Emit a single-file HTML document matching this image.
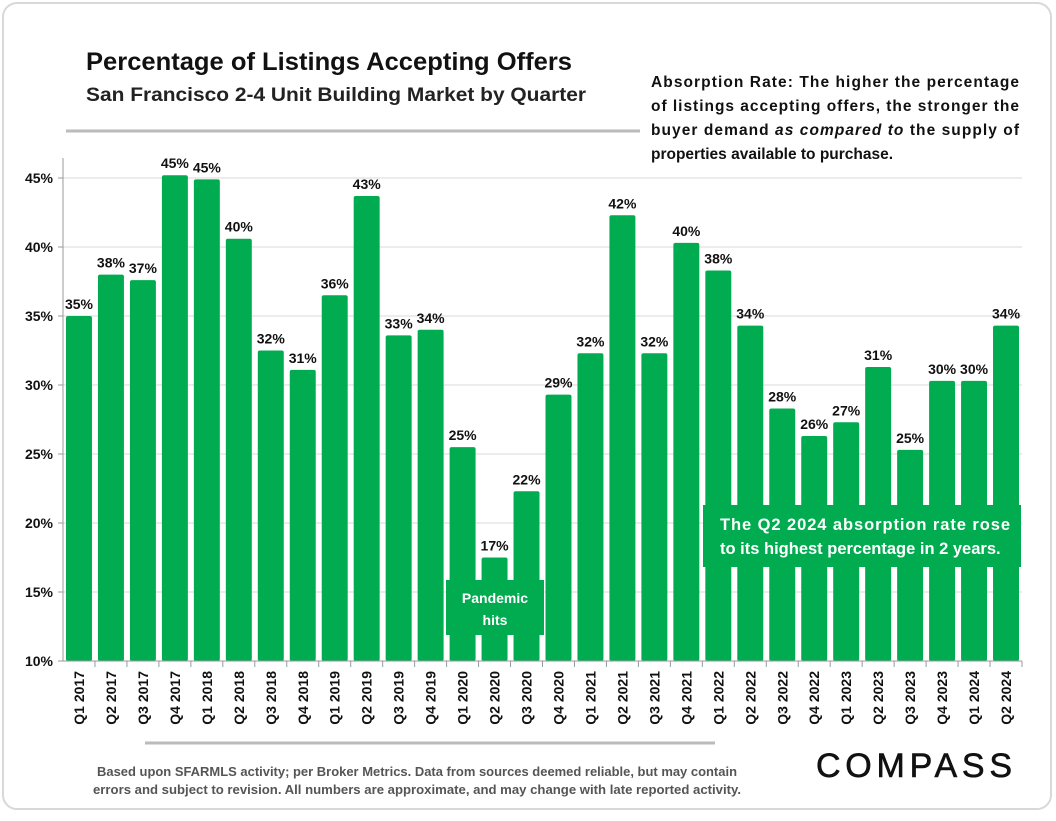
<!DOCTYPE html>
<html><head><meta charset="utf-8"><style>
body{margin:0;background:#fff;width:1056px;height:816px;overflow:hidden;font-family:"Liberation Sans",sans-serif}
svg text{font-family:"Liberation Sans",sans-serif}
</style></head><body>
<svg id="chart" width="1056" height="816" xmlns="http://www.w3.org/2000/svg">
<rect x="3" y="3" width="1048" height="806" rx="14" fill="#fff" stroke="#d8d8d8" stroke-width="2"/>
<text x="86" y="70" font-size="25" font-weight="bold" fill="#111" textLength="486" lengthAdjust="spacingAndGlyphs">Percentage of Listings Accepting Offers</text>
<text x="86" y="101" font-size="19" font-weight="bold" fill="#222" textLength="500" lengthAdjust="spacingAndGlyphs">San Francisco 2-4 Unit Building Market by Quarter</text>
<line x1="66" y1="131" x2="632" y2="131" stroke="#bbb" stroke-width="3"/>
<line x1="632" y1="131" x2="1022" y2="131" stroke="#bbb" stroke-width="3"/>
<rect x="640" y="66" width="384" height="100" fill="#fff"/>
<g font-size="15.5" font-weight="bold" fill="#111">
<text x="651" y="87" textLength="368" lengthAdjust="spacing">Absorption Rate: The higher the percentage</text>
<text x="651" y="111" textLength="368" lengthAdjust="spacing">of listings accepting offers, the stronger the</text>
<text x="651" y="135" textLength="368" lengthAdjust="spacing">buyer demand <tspan font-style="italic">as compared to</tspan> the supply of</text>
<text x="651" y="159">properties available to purchase.</text>
</g>
<g id="grid"></g><g id="bars"></g><g id="labels"></g><g id="axis"></g>
<rect x="446" y="580" width="98" height="55" fill="#00ac4f"/>
<text x="495" y="603" font-size="14" font-weight="bold" fill="#fff" text-anchor="middle">Pandemic</text>
<text x="495" y="625" font-size="14" font-weight="bold" fill="#fff" text-anchor="middle">hits</text>
<rect x="703" y="505" width="318" height="62" fill="#00ac4f"/>
<text x="720" y="530" font-size="16.5" font-weight="bold" fill="#fff" textLength="290" lengthAdjust="spacing">The Q2 2024 absorption rate rose</text>
<text x="720" y="554" font-size="16.5" font-weight="bold" fill="#fff">to its highest percentage in 2 years.</text>
<line x1="145" y1="743" x2="715" y2="743" stroke="#bbb" stroke-width="3"/>
<text x="417" y="776" font-size="13" font-weight="bold" fill="#555" text-anchor="middle" textLength="640" lengthAdjust="spacingAndGlyphs">Based upon SFARMLS activity; per Broker Metrics. Data from sources deemed reliable, but may contain</text>
<text x="417" y="794" font-size="13" font-weight="bold" fill="#555" text-anchor="middle" textLength="648" lengthAdjust="spacingAndGlyphs">errors and subject to revision. All numbers are approximate, and may change with late reported activity.</text>
<text x="914" y="777" font-size="34" fill="#111" stroke="#111" stroke-width="0.6" text-anchor="middle" textLength="196" lengthAdjust="spacing">COMPASS</text>
</svg>
<script>
const categories=["Q1 2017","Q2 2017","Q3 2017","Q4 2017","Q1 2018","Q2 2018","Q3 2018","Q4 2018","Q1 2019","Q2 2019","Q3 2019","Q4 2019","Q1 2020","Q2 2020","Q3 2020","Q4 2020","Q1 2021","Q2 2021","Q3 2021","Q4 2021","Q1 2022","Q2 2022","Q3 2022","Q4 2022","Q1 2023","Q2 2023","Q3 2023","Q4 2023","Q1 2024","Q2 2024"];
const values=[35.0,38.0,37.6,45.2,44.9,40.6,32.5,31.1,36.5,43.7,33.6,34.0,25.5,17.5,22.3,29.3,32.3,42.3,32.3,40.3,38.3,34.3,28.3,26.3,27.3,31.3,25.3,30.3,30.3,34.3];
const labels=["35%","38%","37%","45%","45%","40%","32%","31%","36%","43%","33%","34%","25%","17%","22%","29%","32%","42%","32%","40%","38%","34%","28%","26%","27%","31%","25%","30%","30%","34%"];
const yTicks=[10,15,20,25,30,35,40,45];
const NS="http://www.w3.org/2000/svg";
const x0=63,x1=1022,y0=661,y45=178;
const band=(x1-x0)/categories.length;
function y(v){return y0-(v-10)*(y0-y45)/35;}
function xs(i){return x0+i*band;}
function mk(t,a,p){const e=document.createElementNS(NS,t);for(const k in a)e.setAttribute(k,a[k]);p.appendChild(e);return e;}
const g=document.getElementById('grid'),b=document.getElementById('bars'),l=document.getElementById('labels'),ax=document.getElementById('axis');
yTicks.forEach(t=>{
 const ln=mk('line',{x1:x0,x2:x1,y1:y(t),y2:y(t),stroke:'#d9d9d9','stroke-width':1},g);
 
 
 mk('line',{x1:x0-5,x2:x0,y1:y(t),y2:y(t),stroke:'#999'},ax);
 const tx=mk('text',{x:x0-10,y:y(t)+5,'font-size':14,'font-weight':'bold','text-anchor':'end',fill:'#111'},ax);
 tx.textContent=t+'%';
 
 
});
mk('line',{x1:x0,x2:x0,y1:158,y2:y0,stroke:'#999'},ax);
mk('line',{x1:x0,x2:x1,y1:y0,y2:y0,stroke:'#999'},ax);
categories.forEach((c,i)=>{
 const r=mk('rect',{x:xs(i)+3,y:y(values[i]),width:band-6,height:y0-y(values[i]),rx:2,fill:'#00ac4f'},b);
 
 
 const vl=mk('text',{x:xs(i)+band/2,y:y(values[i])-7,'font-size':14,'font-weight':'bold','text-anchor':'middle',fill:'#111'},l);
 vl.textContent=labels[i];
 
 
 mk('line',{x1:xs(i+1),x2:xs(i+1),y1:y0,y2:y0+6,stroke:'#999'},ax);
 const cx=xs(i)+band/2+5;
 const ct=mk('text',{x:cx,y:y0+10,'font-size':14,'font-weight':'bold','text-anchor':'end',fill:'#111',transform:`rotate(-90 ${cx} ${y0+10})`},ax);
 ct.textContent=c;
 
 
});
</script>
</body></html>
